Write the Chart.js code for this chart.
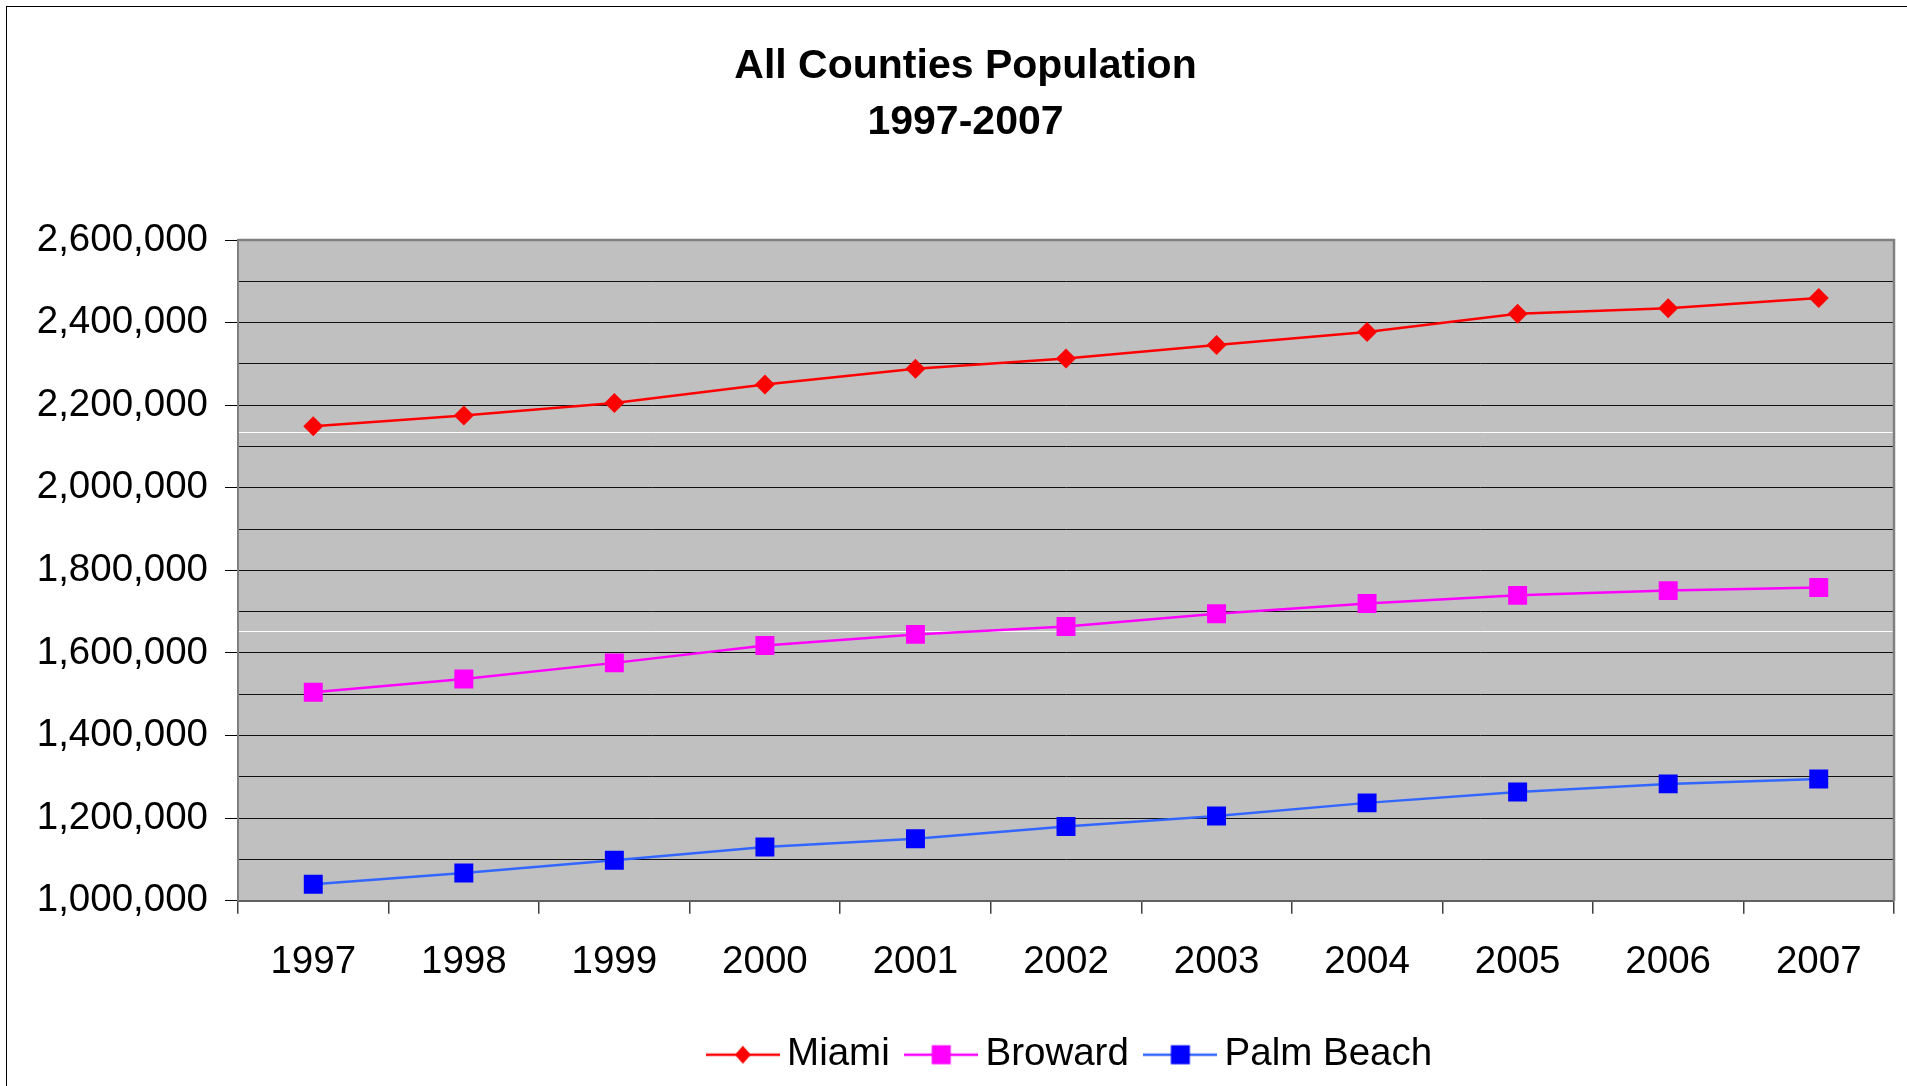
<!DOCTYPE html>
<html>
<head>
<meta charset="utf-8">
<title>All Counties Population 1997-2007</title>
<script src="https://cdn.jsdelivr.net/npm/chart.js@4/dist/chart.umd.min.js"></script>
<style>
  html, body { margin: 0; padding: 0; background: #fff; overflow: hidden; width: 1907px; height: 1086px; }
  #frame { position: absolute; left: 6px; top: 6px; width: 1920px; height: 1120px; border: 1px solid #000; }
  #chart { position: absolute; left: 0; top: 0; }
</style>
</head>
<body>
<div id="frame"><canvas id="chart" width="1912" height="1077"></canvas></div>
<script>
// Population by county, 1997-2007
const years = ['1997', '1998', '1999', '2000', '2001', '2002', '2003', '2004', '2005', '2006', '2007'];
const miami = [2149000, 2175000, 2205500, 2250000, 2288000, 2313000, 2345500, 2377000, 2421500, 2434500, 2459500];
const broward = [1505000, 1537000, 1576000, 1618000, 1645000, 1664000, 1695000, 1720000, 1739500, 1751000, 1758500];
const palmBeach = [1040000, 1067000, 1098000, 1130000, 1150000, 1180000, 1205000, 1237000, 1263500, 1283000, 1295000];

// Value axis
const yMin = 1000000;
const yMax = 2600000;
const yGridStep = 100000;
const yLabelStep = 200000;
// Light rules across the plot
const ruleLevels = [2134500, 1654000];

const FONT = '"Liberation Sans", Arial, Helvetica, sans-serif';

const seriesStyle = [
  { label: 'Miami', data: miami, line: '#FF0000', fill: '#FF0000', marker: 'rectRot', radius: 10 },
  { label: 'Broward', data: broward, line: '#FF00FF', fill: '#FF00FF', marker: 'rect', radius: 13.4 },
  { label: 'Palm Beach', data: palmBeach, line: '#3366FF', fill: '#0000FF', marker: 'rect', radius: 13.4 }
];

// Legend swatch: a short line with the series marker in the middle
function legendIcon(s) {
  const c = document.createElement('canvas');
  c.width = 74; c.height = 22;
  const g = c.getContext('2d');
  g.strokeStyle = s.line; g.lineWidth = 2.5;
  g.beginPath(); g.moveTo(0, 11); g.lineTo(74, 11); g.stroke();
  g.fillStyle = s.fill;
  if (s.marker === 'rectRot') {
    g.beginPath(); g.moveTo(37, 2); g.lineTo(45, 11); g.lineTo(37, 20); g.lineTo(29, 11); g.closePath(); g.fill();
  } else {
    g.fillRect(27.5, 1.5, 19, 19);
  }
  return c;
}
const icons = seriesStyle.map(legendIcon);

const plotFrame = {
  id: 'plotFrame',
  beforeDraw(chart) {
    const { ctx, chartArea: a } = chart;
    ctx.save();
    ctx.fillStyle = '#C0C0C0';
    ctx.fillRect(a.left, a.top, a.right - a.left, a.bottom - a.top);
    ctx.restore();
  },
  beforeDatasetsDraw(chart) {
    const { ctx, chartArea: a } = chart;
    const y = chart.scales.y;
    ctx.save();
    ctx.strokeStyle = '#FFFFFF';
    ctx.lineWidth = 1;
    ruleLevels.forEach(v => {
      const py = Math.round(y.getPixelForValue(v)) + 0.5;
      ctx.beginPath(); ctx.moveTo(a.left + 1, py); ctx.lineTo(a.right, py); ctx.stroke();
    });
    ctx.strokeStyle = '#808080';
    ctx.lineWidth = 2.5;
    ctx.beginPath();
    ctx.moveTo(a.left, a.top);
    ctx.lineTo(a.right, a.top);
    ctx.lineTo(a.right, a.bottom);
    ctx.stroke();
    ctx.restore();
  },
  afterLayout(chart) {
    // keep the legend row centred under the plot area
    const a = chart.chartArea;
    if (chart.legend) { chart.legend.left = a.left + 18; chart.legend.right = a.right; }
  }
};

new Chart(document.getElementById('chart'), {
  type: 'line',
  data: {
    labels: years,
    datasets: seriesStyle.map(s => ({
      label: s.label,
      data: s.data,
      borderColor: s.line,
      backgroundColor: s.fill,
      borderWidth: 2.5,
      tension: 0,
      fill: false,
      pointStyle: s.marker,
      pointRadius: s.radius,
      pointHoverRadius: s.radius,
      pointBackgroundColor: s.fill,
      pointBorderColor: s.fill,
      pointBorderWidth: 0
    }))
  },
  plugins: [plotFrame],
  options: {
    responsive: false,
    animation: false,
    events: [],
    layout: { padding: { left: 30, right: 25, top: 0, bottom: 0 } },
    plugins: {
      title: {
        display: true,
        text: ['All Counties Population', '1997-2007'],
        color: '#000',
        font: { family: FONT, size: 41, weight: 'bold', lineHeight: 1.35 },
        padding: { top: 32.5, bottom: 89.8 }
      },
      legend: {
        position: 'bottom',
        labels: {
          usePointStyle: true,
          pointStyleWidth: 50,
          padding: 26.5,
          color: '#000',
          font: { family: FONT, size: 38.5 },
          generateLabels(chart) {
            const items = Chart.defaults.plugins.legend.labels.generateLabels(chart);
            items.forEach((it, i) => { it.pointStyle = icons[i]; });
            return items;
          }
        }
      },
      tooltip: { enabled: false }
    },
    scales: {
      x: {
        offset: true,
        grid: { offset: true, drawOnChartArea: false, tickLength: 13, color: '#404040', lineWidth: 1.5 },
        border: { color: '#606060', width: 2 },
        ticks: { padding: 25.5, color: '#000', font: { family: FONT, size: 38.5 }, maxRotation: 0, autoSkip: false },
        afterFit(s) { s.height = 108.25; }
      },
      y: {
        min: yMin,
        max: yMax,
        grid: {
          color: '#111',
          lineWidth: 1,
          tickLength: 13,
          tickColor: c => (c.tick && c.tick.value % yLabelStep === 0) ? '#000' : 'rgba(0,0,0,0)'
        },
        border: { color: '#808080', width: 2 },
        ticks: {
          stepSize: yGridStep,
          autoSkip: false,
          padding: 17,
          color: '#000',
          font: { family: FONT, size: 38.5 },
          callback: v => (v % yLabelStep === 0) ? v.toLocaleString('en-US') : ''
        },
        afterFit(s) { s.width = 201; }
      }
    }
  }
});
</script>
</body>
</html>
